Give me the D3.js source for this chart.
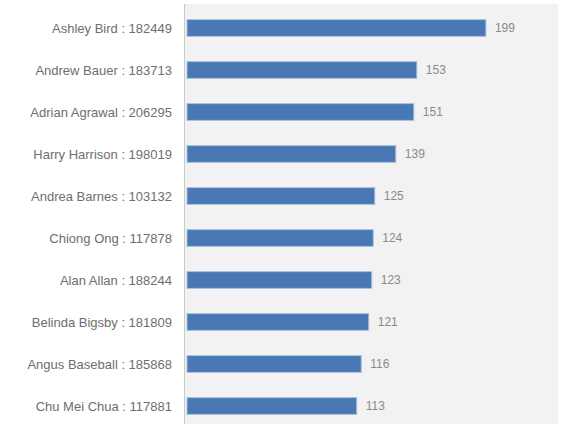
<!DOCTYPE html>
<html>
<head>
<meta charset="utf-8">
<script src="https://cdn.jsdelivr.net/npm/d3@7"></script>
<style>
  body { margin: 0; background: #fff; }
  svg text { font-family: "Liberation Sans", Arial, sans-serif; }
</style>
</head>
<body>
<div id="chart"></div>
<script>
  // Data.
  var names = ['Ashley Bird', 'Andrew Bauer', 'Adrian Agrawal', 'Harry Harrison', 'Andrea Barnes',
               'Chiong Ong', 'Alan Allan', 'Belinda Bigsby', 'Angus Baseball', 'Chu Mei Chua'];
  var ids = ['182449', '183713', '206295', '198019', '103132',
             '117878', '188244', '181809', '185868', '117881'];
  var values = [199, 153, 151, 139, 125, 124, 123, 121, 116, 113];

  var width = 568, height = 433;
  var plot = { left: 184, right: 558, top: 7, bottom: 427 };

  var svg = d3.select('#chart').append('svg')
    .attr('width', width)
    .attr('height', height);

  var x = d3.scaleLinear()
    .domain([0, 247])
    .range([plot.left + 3, plot.left + 3 + 371]);

  var y = d3.scaleBand()
    .domain(d3.range(values.length))
    .range([plot.top, plot.bottom])
    .paddingInner(0.6)
    .paddingOuter(0.3);

  // plot background
  svg.append('rect')
    .attr('x', plot.left)
    .attr('y', plot.top - 3)
    .attr('width', plot.right - plot.left)
    .attr('height', plot.bottom - plot.top)
    .attr('fill', '#f2f2f2');

  svg.append('line')
    .attr('x1', plot.left + 0.5).attr('x2', plot.left + 0.5)
    .attr('y1', plot.top - 3).attr('y2', plot.bottom - 3)
    .attr('stroke', '#c8c8c8');

  var rows = svg.selectAll('g.row')
    .data(values)
    .enter().append('g')
    .attr('class', 'row');

  rows.append('rect')
    .attr('x', x(0))
    .attr('y', function(d, i) { return y(i); })
    .attr('width', function(d) { return x(d) - x(0); })
    .attr('height', y.bandwidth())
    .attr('fill', '#4a78b4')
    .attr('stroke', '#a9c0de')
    .attr('stroke-width', 1);

  rows.append('text')
    .attr('x', function(d) { return x(d) + 9; })
    .attr('y', function(d, i) { return y(i) + y.bandwidth() / 2; })
    .attr('dy', '0.35em')
    .attr('font-size', 12)
    .attr('fill', '#8a8a8a')
    .text(function(d) { return d; });

  rows.append('text')
    .attr('x', plot.left - 12)
    .attr('y', function(d, i) { return y(i) + y.bandwidth() / 2; })
    .attr('dy', '0.35em')
    .attr('text-anchor', 'end')
    .attr('font-size', 13)
    .attr('fill', '#6e6e6e')
    .text(function(d, i) { return names[i] + ' : ' + ids[i]; });
</script>
</body>
</html>
